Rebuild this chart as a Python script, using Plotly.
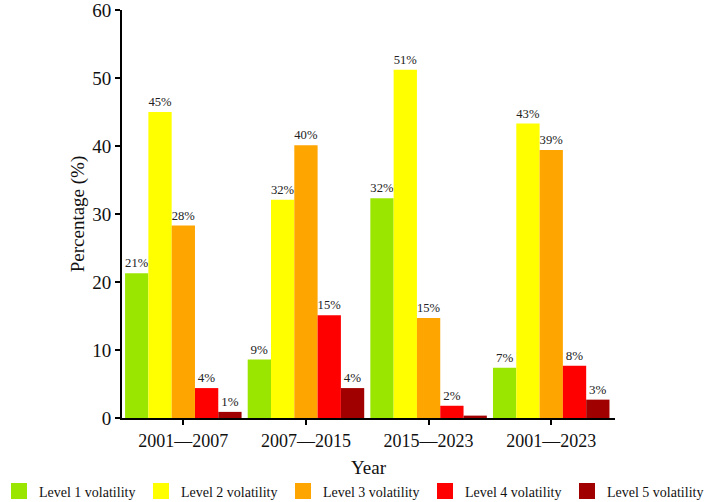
import plotly.graph_objects as go

categories = ["2001—2007", "2007—2015", "2015—2023", "2001—2023"]
series_names = ["Level 1 volatility", "Level 2 volatility", "Level 3 volatility",
                "Level 4 volatility", "Level 5 volatility"]
level1 = [21.3, 8.6, 32.3, 7.4]
level2 = [45.0, 32.1, 51.2, 43.3]
level3 = [28.3, 40.1, 14.7, 39.4]
level4 = [4.4, 15.1, 1.8, 7.7]
level5 = [0.9, 4.4, 0.35, 2.7]
colors = ["#9BE600", "#FFFF00", "#FFA500", "#FF0000", "#A00000"]
y_ticks = [0, 10, 20, 30, 40, 50, 60]
legend_ids = ["legend", "legend", "legend", "legend2", "legend2"]

FONT = "Liberation Serif, Times New Roman, serif"
fig = go.Figure()
for name, vals, col, lg in zip(series_names, [level1, level2, level3, level4, level5], colors, legend_ids):
    txt = [f"{v:.0f}%" if v >= 0.5 else "" for v in vals]
    fig.add_trace(go.Bar(
        x=categories, y=vals, name=name, marker_color=col, marker_line_width=0,
        text=txt, textposition="outside", cliponaxis=False,
        textfont=dict(family=FONT, size=13, color="#222"),
        showlegend=False, legendgroup=name))
    fig.add_trace(go.Scatter(
        x=[None], y=[None], mode="markers", name=name, legendgroup=name, legend=lg,
        marker=dict(symbol="square", size=22, color=col)))

leg_common = dict(orientation="h", y=-0.18, yanchor="middle",
                  font=dict(family=FONT, size=14, color="#111"),
                  itemsizing="trace", tracegroupgap=0, itemwidth=30,
                  entrywidth=97, entrywidthmode="pixels", bgcolor="rgba(0,0,0,0)")

fig.update_layout(
    width=709, height=502,
    margin=dict(l=122, r=94, t=10, b=84, autoexpand=False),
    plot_bgcolor="white", paper_bgcolor="white",
    barmode="group", bargap=0.05, bargroupgap=0,
    font=dict(family=FONT, color="#111"),
    legend=dict(x=-0.2495, xanchor="left", **leg_common),
    legend2=dict(x=0.6146, xanchor="left", **leg_common),
)
fig.update_xaxes(
    range=[-0.5, 3.52], showline=True, linecolor="black", linewidth=2,
    ticks="outside", ticklen=5, tickwidth=2, tickcolor="black",
    tickfont=dict(family=FONT, size=18, color="#111"),
    title=dict(text="Year", font=dict(family=FONT, size=19, color="#111"), standoff=11),
    showgrid=False, zeroline=False)
fig.update_yaxes(
    range=[0, 60], tickvals=y_ticks, showline=True, linecolor="black", linewidth=2,
    ticks="outside", ticklen=5, tickwidth=2, tickcolor="black", ticklabeloverflow="allow",
    tickfont=dict(family=FONT, size=19, color="#111"),
    title=dict(text="Percentage (%)", font=dict(family=FONT, size=19, color="#111"), standoff=3),
    showgrid=False, zeroline=False)

fig.write_html("out.html")
